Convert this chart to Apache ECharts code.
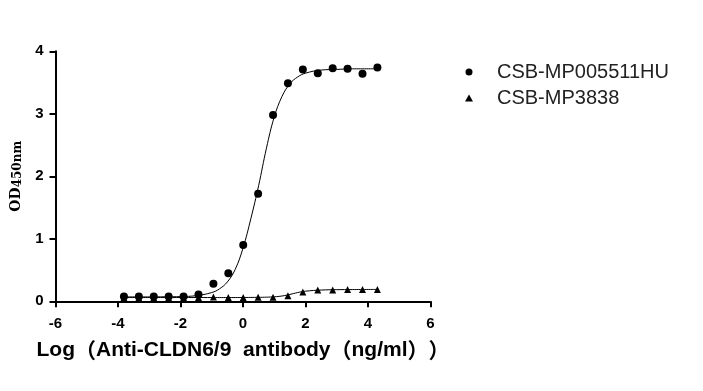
<!DOCTYPE html>
<html>
<head>
<meta charset="utf-8">
<script src="https://cdn.jsdelivr.net/npm/echarts@6/dist/echarts.min.js"></script>
<style>
html,body{margin:0;padding:0;background:#fff;}
#chart{width:703px;height:391px;}
</style>
</head>
<body>
<div id="chart"></div>
<script>
// log10 concentration (ng/ml), 3-fold dilutions
var logConc = [4.301, 3.824, 3.347, 2.870, 2.393, 1.915, 1.438, 0.961, 0.484, 0.007, -0.470, -0.947, -1.424, -1.902, -2.379, -2.856, -3.333, -3.810];
var odMP005511HU = [3.74, 3.64, 3.72, 3.73, 3.65, 3.71, 3.49, 2.98, 1.72, 0.90, 0.45, 0.28, 0.11, 0.075, 0.075, 0.075, 0.075, 0.075];
var odMP3838 = [0.19, 0.19, 0.19, 0.18, 0.18, 0.15, 0.09, 0.065, 0.065, 0.06, 0.06, 0.07, 0.06, 0.055, 0.055, 0.055, 0.055, 0.055];

// fitted curves
var curveX = [-3.81, -3.0, -2.5, -2.0, -1.5, -1.0, -0.75, -0.5, -0.25, 0.0, 0.25, 0.5, 0.75, 1.0, 1.25, 1.5, 1.75, 2.0, 2.5, 3.0, 3.5, 4.3];
var curveMP005511HU = [0.07, 0.07, 0.072, 0.075, 0.09, 0.14, 0.20, 0.31, 0.51, 0.85, 1.32, 1.85, 2.45, 2.95, 3.28, 3.48, 3.59, 3.65, 3.70, 3.71, 3.72, 3.72];
var curveMP3838 = [0.06, 0.06, 0.06, 0.06, 0.06, 0.06, 0.06, 0.06, 0.06, 0.061, 0.062, 0.063, 0.066, 0.072, 0.085, 0.11, 0.14, 0.162, 0.180, 0.186, 0.188, 0.19];

var seriesNames = ['CSB-MP005511HU', 'CSB-MP3838'];
var xTicks = [-6, 6, 2];
var yTicks = [0, 4, 1];

function pairs(xs, ys) { return xs.map(function (x, i) { return [x, ys[i]]; }); }

var chart = echarts.init(document.getElementById('chart'), null, {renderer: 'canvas'});
var fontSans = 'Liberation Sans, Arial, sans-serif';
var fontSerif = 'DejaVu Serif, serif';
chart.setOption({
  animation: false,
  backgroundColor: '#fff',
  grid: {left: 55.5, right: 272.5, top: 51.3, bottom: 89.7},
  legend: {
    orient: 'vertical',
    left: 460, top: 57,
    itemWidth: 8, itemHeight: 7, itemGap: 6,
    data: [{name: seriesNames[0], icon: 'circle'}, {name: seriesNames[1], icon: 'triangle'}],
    textStyle: {fontFamily: fontSans, fontSize: 20, color: '#222', padding: [0, 0, 0, 19]}
  },
  xAxis: {
    type: 'value', min: xTicks[0], max: xTicks[1], interval: xTicks[2],
    splitLine: {show: false},
    axisLine: {onZero: false, lineStyle: {color: '#000', width: 2}},
    axisTick: {length: 6, lineStyle: {color: '#000', width: 2}},
    axisLabel: {color: '#000', fontFamily: fontSans, fontWeight: 'bold', fontSize: 15, margin: 15},
    name: 'Log{p|（}Anti-CLDN6/9  antibody{p|（}ng/ml{p|）}{p|）}',
    nameLocation: 'middle', nameGap: 38,
    nameTextStyle: {
      color: '#000', fontFamily: fontSans, fontWeight: 'bold', fontSize: 21,
      rich: {p: {fontFamily: 'Noto Sans CJK SC', fontWeight: 'bold', fontSize: 21, color: '#000'}}
    }
  },
  yAxis: {
    type: 'value', min: yTicks[0], max: yTicks[1], interval: yTicks[2],
    splitLine: {show: false},
    axisLine: {show: true, onZero: false, lineStyle: {color: '#000', width: 2}},
    axisTick: {show: true, length: 6, lineStyle: {color: '#000', width: 2}},
    axisLabel: {color: '#000', fontFamily: fontSans, fontWeight: 'bold', fontSize: 15, margin: 12},
    name: '{a|OD}{b|450nm}',
    nameLocation: 'middle', nameGap: 26, nameRotate: 90,
    nameTextStyle: {
      rich: {
        a: {fontFamily: fontSerif, fontWeight: 'bold', fontSize: 14, color: '#000'},
        b: {fontFamily: fontSerif, fontWeight: 'bold', fontSize: 12, color: '#000', padding: [4, 0, 0, 0]}
      }
    }
  },
  series: [
    {name: seriesNames[0], type: 'scatter', symbol: 'circle', symbolSize: 8, itemStyle: {color: '#000', opacity: 1}, data: pairs(logConc, odMP005511HU), z: 3},
    {name: seriesNames[1], type: 'scatter', symbol: 'triangle', symbolSize: 7, itemStyle: {color: '#000', opacity: 1}, data: pairs(logConc, odMP3838), z: 3},
    {name: 'fit1', type: 'line', smooth: 0.4, showSymbol: false, lineStyle: {color: '#000', width: 1}, data: pairs(curveX, curveMP005511HU), z: 2},
    {name: 'fit2', type: 'line', smooth: 0.4, showSymbol: false, lineStyle: {color: '#000', width: 1}, data: pairs(curveX, curveMP3838), z: 2}
  ]
});
</script>
</body>
</html>
